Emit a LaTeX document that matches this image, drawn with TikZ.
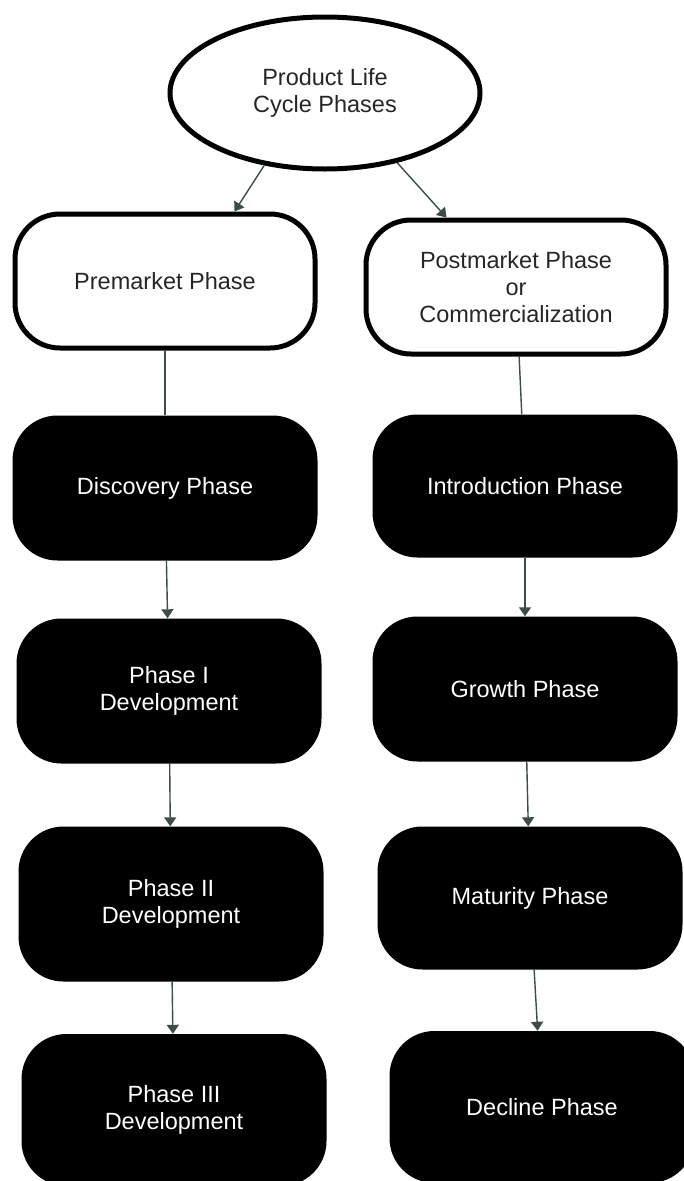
\documentclass[tikz,border=0pt]{standalone}
\usepackage{fontspec}
\setmainfont{Liberation Sans}
\usepackage{xcolor}
\usetikzlibrary{arrows.meta,calc,positioning,shapes.geometric}
\definecolor{linkgray}{HTML}{3B4D46}
\tikzset{%
	cycle/.style    = {draw, ellipse, line width=5pt, minimum width=310pt, minimum height=152pt, text=black!85, align=center}, % Title
	market/.style   = {draw, rectangle, rounded corners=45pt, line width=5pt, minimum width=300pt, minimum height=134pt, text=black!85, align=center}, % Market
	stage/.style    = {fill=black, rectangle, rounded corners=45pt, minimum width=305pt, minimum height=145pt, text=white, align=center}, % Stage
	link/.style     = {draw=linkgray, line width=1.4pt}, % Line
	flow/.style     = {link, -{Triangle[width=12pt,length=9pt]}}, % Arrow
}
\begin{document}
\begin{tikzpicture}[x=1pt, y=-1pt, every node/.style={font=\fontsize{23.5}{27}\selectfont}]
		\useasboundingbox (0,0) rectangle (684,1181);
		\clip (0,0) rectangle (684,1181);
		\node[cycle] (life) at (325,93) {Product Life\\Cycle Phases};
		\node[market] (pre) at (165,281) {Premarket Phase};
		\node[market] (post) at (516,287) {Postmarket Phase\\or\\Commercialization};
		\node[stage, below of=pre, node distance=207pt] (disc) {Discovery Phase};
		\node[stage, below of=disc, node distance=203pt, xshift=4pt] (ph1) {Phase I\\Development};
		\node[stage, below of=ph1, node distance=213pt, xshift=2pt, minimum height=155pt] (ph2) {Phase II\\Development};
		\node[stage, below of=ph2, node distance=206pt, xshift=3pt, minimum height=152pt] (ph3) {Phase III\\Development};
		\node[stage, below of=post, node distance=199pt, xshift=9pt, minimum height=143pt] (intro) {Introduction Phase};
		\node[stage, below of=intro, node distance=203pt] (grow) {Growth Phase};
		\node[stage, below of=grow, node distance=209pt, xshift=5pt, minimum height=143pt] (mat) {Maturity Phase};
		\node[stage, below of=mat, node distance=209pt, xshift=12pt, minimum height=152pt] (dec) {Decline Phase};
		\draw[flow] (life.230) -- (pre.45);
		\draw[flow] (life.-44) -- (post.135);
		\draw[link] (pre) -- (disc);
		\draw[link] (post) -- (intro);
		\draw[flow] (disc) -- (ph1);
		\draw[flow] (ph1) -- (ph2);
		\draw[flow] (ph2) -- (ph3);
		\draw[flow] (intro) -- (grow);
		\draw[flow] (grow) -- (mat);
		\draw[flow] (mat) -- (dec);
		
		\end{tikzpicture}
\end{document}
